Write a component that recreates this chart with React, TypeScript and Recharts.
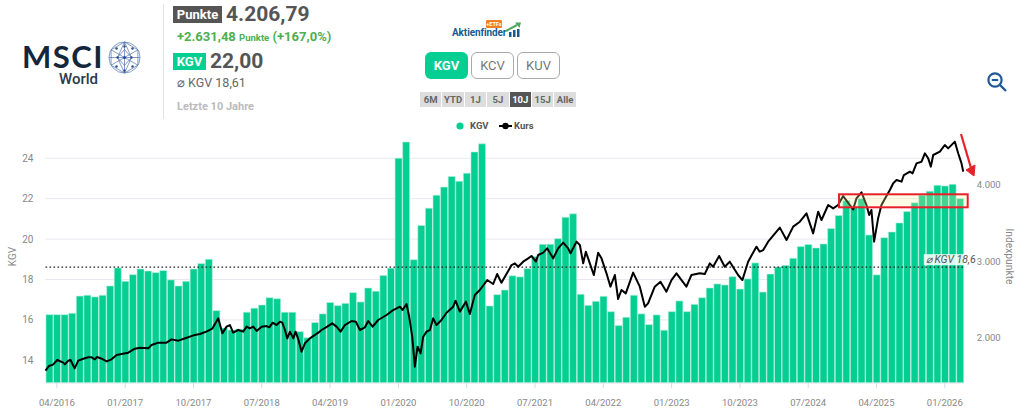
import React from "react";
import { ComposedChart, Bar, Line, XAxis, YAxis, CartesianGrid, ReferenceLine, Legend } from "recharts";

const months = [
  "03/2016", "04/2016", "05/2016", "06/2016", "07/2016", "08/2016", "09/2016", "10/2016", "11/2016", "12/2016",
  "01/2017", "02/2017", "03/2017", "04/2017", "05/2017", "06/2017", "07/2017", "08/2017", "09/2017", "10/2017", "11/2017", "12/2017",
  "01/2018", "02/2018", "03/2018", "04/2018", "05/2018", "06/2018", "07/2018", "08/2018", "09/2018", "10/2018", "11/2018", "12/2018",
  "01/2019", "02/2019", "03/2019", "04/2019", "05/2019", "06/2019", "07/2019", "08/2019", "09/2019", "10/2019", "11/2019", "12/2019",
  "01/2020", "02/2020", "03/2020", "04/2020", "05/2020", "06/2020", "07/2020", "08/2020", "09/2020", "10/2020", "11/2020", "12/2020",
  "01/2021", "02/2021", "03/2021", "04/2021", "05/2021", "06/2021", "07/2021", "08/2021", "09/2021", "10/2021", "11/2021", "12/2021",
  "01/2022", "02/2022", "03/2022", "04/2022", "05/2022", "06/2022", "07/2022", "08/2022", "09/2022", "10/2022", "11/2022", "12/2022",
  "01/2023", "02/2023", "03/2023", "04/2023", "05/2023", "06/2023", "07/2023", "08/2023", "09/2023", "10/2023", "11/2023", "12/2023",
  "01/2024", "02/2024", "03/2024", "04/2024", "05/2024", "06/2024", "07/2024", "08/2024", "09/2024", "10/2024", "11/2024", "12/2024",
  "01/2025", "02/2025", "03/2025", "04/2025", "05/2025", "06/2025", "07/2025", "08/2025", "09/2025", "10/2025", "11/2025", "12/2025",
  "01/2026", "02/2026", "03/2026",
];

const kgv = [
  16.26, 16.26, 16.26, 16.33, 17.18, 17.22, 17.14, 17.22, 17.68, 18.57,
  17.91, 18.24, 18.52, 18.42, 18.34, 18.44, 17.98, 17.68, 17.91, 18.52,
  18.79, 19.0, 16.46, 15.6, 15.5, 15.55, 16.38, 16.58, 16.74, 17.1,
  17.05, 16.38, 16.38, 15.42, 15.12, 15.87, 16.3, 16.86, 16.71, 16.82,
  17.35, 16.89, 17.58, 17.42, 18.2, 18.56, 24.0, 24.8, 18.98, 20.67,
  21.53, 22.17, 22.57, 23.1, 22.86, 23.26, 24.31, 24.71, 16.69, 17.25,
  17.48, 18.18, 18.13, 18.54, 19.13, 19.74, 19.74, 20.02, 21.08, 21.25,
  17.27, 16.72, 16.92, 17.17, 16.41, 15.72, 16.13, 17.22, 16.3, 15.77,
  16.25, 15.49, 16.41, 16.94, 16.41, 16.77, 17.1, 17.58, 17.78, 17.73,
  18.14, 17.53, 18.03, 18.82, 17.38, 18.27, 18.62, 18.7, 19.05, 19.63,
  19.73, 19.56, 19.76, 20.52, 21.17, 21.9, 21.6, 22.0, 20.2, 18.23,
  20.07, 20.35, 20.8, 21.36, 21.8, 22.17, 22.37, 22.66, 22.63, 22.71,
  22.0,
];

// Kurs position counted in months from the first bar
const kursMonths = [
  -0.5, -0.05, 0.48, 1.05, 1.84, 2.06, 2.5, 2.8, 3.34, 3.82, 4.48, 5.14, 5.58, 6.0, 6.3, 6.9, 7.55, 8.2, 8.87, 9.53,
  10.4, 11.28, 11.94, 13.04, 13.48, 14.36, 15.45, 16.1, 17.0, 18.1, 19.0, 19.84, 20.7, 21.47, 22.26, 22.8, 23.36, 23.8, 24.23, 24.9,
  25.55, 26.0, 26.43, 26.87, 27.32, 27.98, 28.64, 28.99, 29.43, 29.95, 30.39, 30.7, 31.05, 31.36, 31.71, 32.15, 32.45, 32.81, 33.24, 33.68,
  34.34, 35.44, 35.88, 36.62, 37.28, 37.85, 38.38, 38.95, 39.83, 40.4, 40.93, 41.59, 42.02, 42.6, 43.34, 44.44, 45.32, 46.2, 46.55, 47.07,
  47.42, 47.82, 48.17, 48.52, 48.92, 49.27, 49.71, 50.15, 50.58, 51.02, 51.68, 52.34, 53.22, 53.53, 54.1, 54.89, 55.41, 56.07, 56.73, 57.7,
  58.49, 59.01, 59.58, 60.16, 60.68, 60.91, 61.35, 61.78, 62.44, 63.1, 63.54, 64.11, 64.42, 65.08, 65.6, 66.39, 67.05, 67.71, 68.37, 68.68,
  69.47, 69.91, 70.35, 70.7, 71.0, 71.75, 72.32, 72.76, 73.42, 73.94, 74.52, 74.95, 75.39, 75.96, 76.93, 77.81, 78.47, 78.9, 79.78, 80.53,
  81.32, 81.98, 82.64, 83.95, 84.61, 85.71, 86.37, 87.03, 87.47, 88.26, 89.0, 89.66, 90.76, 91.33, 92.08, 93.17, 93.61, 94.07, 94.72, 96.26,
  97.14, 98.02, 98.9, 99.77, 100.65, 101.31, 101.75, 102.63, 103.29, 103.94, 104.6, 105.48, 105.92, 106.36, 107.02, 107.68, 108.03, 108.33, 108.68, 109.21,
  109.65, 110.31, 110.76, 111.2, 111.64, 112.3, 112.6, 113.4, 113.75, 114.27, 114.93, 115.37, 115.81, 116.16, 116.47, 117.35, 118.0, 118.44, 119.32, 119.76,
  120.2, 120.42,
];

const kursValues = [
  1562, 1623, 1641, 1702, 1667, 1645, 1693, 1702, 1592, 1693, 1719, 1737, 1737, 1711, 1741, 1719, 1684, 1711, 1768, 1781,
  1798, 1851, 1864, 1855, 1899, 1930, 1930, 1973, 1956, 1995, 2026, 2043, 2074, 2113, 2249, 2052, 2140, 2161, 2061, 2096,
  2074, 2140, 2118, 2140, 2083, 2140, 2148, 2131, 2192, 2161, 2205, 2192, 2096, 1986, 2074, 1986, 2074, 1973, 1811, 1921,
  1986, 2061, 2096, 2140, 2183, 2140, 2074, 2161, 2214, 2205, 2096, 2131, 2214, 2140, 2227, 2293, 2358, 2402, 2358, 2437,
  2271, 2008, 1614, 1877, 1789, 2008, 2074, 2096, 2249, 2161, 2227, 2323, 2402, 2481, 2337, 2468, 2306, 2555, 2621, 2752,
  2700, 2831, 2717, 2818, 2906, 2949, 2971, 2927, 2993, 3037, 3068, 2993, 3081, 3111, 3168, 3037, 3168, 3243, 3168, 3103,
  3256, 3212, 2971, 3124, 3037, 2818, 3111, 3037, 2840, 2665, 2818, 2503, 2621, 2577, 2849, 2665, 2402, 2446, 2665, 2730,
  2599, 2752, 2840, 2665, 2818, 2840, 2831, 2971, 2927, 3068, 2927, 2993, 2818, 2752, 2993, 3190, 3124, 3146, 3256, 3440,
  3278, 3453, 3518, 3628, 3365, 3650, 3540, 3737, 3693, 3737, 3855, 3737, 3680, 3825, 3904, 3737, 3606, 3672, 3256, 3562,
  3737, 3855, 3934, 4022, 4065, 4044, 4131, 4175, 4153, 4284, 4306, 4416, 4350, 4241, 4394, 4437, 4525, 4481, 4569, 4416,
  4284, 4175,
];

const xTicks = ["04/2016", "01/2017", "10/2017", "07/2018", "04/2019", "01/2020", "10/2020", "07/2021", "04/2022", "01/2023", "10/2023", "07/2024", "04/2025", "01/2026"];
const kgvTicks = [14, 16, 18, 20, 22, 24];
const kursTicks = [2000, 3000, 4000];
const avgKgv = 18.61;
const rangeButtons = ["6M", "YTD", "1J", "5J", "10J", "15J", "Alle"];
const kennzahlButtons = ["KGV", "KCV", "KUV"];

const GREEN = "#04CE91";
const FONT = "Roboto, sans-serif";

const barRows = months.map((month, i) => ({ month, kgv: kgv[i] }));
const kursRows = kursMonths.map((t, i) => ({ t, kurs: kursValues[i] }));

const formatKurs = (v: number) => v.toLocaleString("de-DE");

const AvgLabel = (props: any) => {
  const { x, y, width } = props.viewBox;
  const right = x + width + 10;
  return (
    <g>
      <rect x={right - 50} y={y - 13} width={50} height={11} fill="#ffffff" fillOpacity={0.85} />
      <text x={right - 48} y={y - 4} fontSize={10.5} fontStyle="italic" fill="#555" fontFamily={FONT}>
        ⌀ KGV 18,6
      </text>
    </g>
  );
};

const ChartLegend = () => (
  <div style={{ position: "absolute", left: 0, top: 0, width: 1024, height: 0, fontFamily: FONT, fontSize: 9.5, fontWeight: 700, color: "#555" }}>
    <svg style={{ position: "absolute", left: 450, top: 119 }} width={70} height={14}>
      <circle cx={10} cy={7} r={3.6} fill={GREEN} />
      <line x1={49} x2={62} y1={7} y2={7} stroke="#000" strokeWidth={2} />
      <circle cx={55.5} cy={7} r={3.2} fill="#000" />
    </svg>
    <span style={{ position: "absolute", left: 470, top: 120 }}>KGV</span>
    <span style={{ position: "absolute", left: 514, top: 120 }}>Kurs</span>
  </div>
);

const Abs = ({ x, y, w, h, style, children }: any) => (
  <div style={{ position: "absolute", left: x, top: y, width: w, height: h, lineHeight: `${h}px`, whiteSpace: "nowrap", ...style }}>{children}</div>
);

const Globe = () => (
  <svg style={{ position: "absolute", left: 108, top: 41 }} width={33} height={33} viewBox="-16.5 -16.5 33 33">
    <g fill="none" stroke="#4f74ad" strokeWidth={0.7}>
      <circle r={15.5} />
      <polygon points="0,-15.5 13.4,-7.7 13.4,7.7 0,15.5 -13.4,7.7 -13.4,-7.7" />
      <path d="M0,-15.5V15.5M-13.4,-7.7L13.4,7.7M-13.4,7.7L13.4,-7.7" />
      <polygon points="0,-8 7,0 0,8 -7,0" />
      <path d="M-15.5,0H15.5M-7,0L0,-15.5L7,0L0,15.5Z" />
    </g>
    <g fill="#2d4f8a">
      <circle cx={0} cy={0} r={1.5} />
      <circle cx={7} cy={0} r={1.2} />
      <circle cx={-7} cy={0} r={1.2} />
      <circle cx={0} cy={-11} r={1.2} />
      <circle cx={8} cy={-9} r={1.2} />
      <circle cx={-8} cy={-9} r={1.2} />
      <circle cx={8} cy={9} r={1.2} />
      <circle cx={-8} cy={9} r={1.2} />
      <circle cx={0} cy={13} r={1.2} />
    </g>
  </svg>
);

const Header = () => (
  <div style={{ fontFamily: FONT }}>
    <Abs x={22} y={41} w={84} h={30} style={{ fontFamily: "Lato, sans-serif", fontSize: 31, fontWeight: 700, color: "#14263a", letterSpacing: 1.5 }}>MSCI</Abs>
    <Abs x={59} y={71} w={42} h={16} style={{ fontSize: 15, fontWeight: 500, color: "#2b3a4a" }}>World</Abs>
    <Globe />
    <Abs x={163} y={4} w={1} h={115} style={{ background: "#e2e2e2" }} />

    <Abs x={173} y={6} w={49} h={17} style={{ background: "#555", color: "#fff", fontSize: 13, fontWeight: 700, textAlign: "center" }}>Punkte</Abs>
    <Abs x={226} y={1} w={90} h={26} style={{ fontSize: 21, fontWeight: 700, color: "#555" }}>4.206,79</Abs>
    <Abs x={177} y={29} w={160} h={16} style={{ fontSize: 13, fontWeight: 700, color: "#4caf50" }}>
      +2.631,48 <span style={{ fontSize: 9.5 }}>Punkte</span> (+167,0%)
    </Abs>
    <Abs x={173} y={53} w={33} h={17} style={{ background: GREEN, color: "#fff", fontSize: 13, fontWeight: 700, textAlign: "center" }}>KGV</Abs>
    <Abs x={210} y={48} w={60} h={26} style={{ fontSize: 21, fontWeight: 700, color: "#555" }}>22,00</Abs>
    <Abs x={177} y={75} w={90} h={16} style={{ fontSize: 12.5, color: "#666" }}>⌀ KGV 18,61</Abs>
    <Abs x={177} y={99} w={90} h={15} style={{ fontSize: 11, fontWeight: 700, color: "#bbb" }}>Letzte 10 Jahre</Abs>

    <Abs x={452} y={27} w={56} h={12} style={{ fontSize: 10, fontWeight: 700, color: "#1b5a8e", letterSpacing: -0.1 }}>Aktienfinder</Abs>
    <Abs x={486} y={20} w={16} h={8} style={{ background: "#f07f2a", color: "#fff", fontSize: 5.5, fontWeight: 700, textAlign: "center", borderRadius: 1 }}>+ETFs</Abs>
    <svg style={{ position: "absolute", left: 505, top: 20 }} width={18} height={19}>
      <rect x={4} y={12} width={2.5} height={5} fill="#1b5a8e" />
      <rect x={8} y={10} width={2.5} height={7} fill="#1b5a8e" />
      <rect x={12} y={9} width={2.5} height={8} fill="#1b5a8e" />
      <path d="M1,11 L12,5" stroke="#4da85a" strokeWidth={2} fill="none" />
      <path d="M10,2.5 L16,2.5 L14.5,8 Z" fill="#4da85a" />
    </svg>

    {kennzahlButtons.map((label, i) => (
      <Abs
        key={label}
        x={425 + i * 46}
        y={52}
        w={i === 0 ? 43 : 41}
        h={i === 0 ? 27 : 25}
        style={{
          background: i === 0 ? GREEN : "#fff",
          border: i === 0 ? "none" : "1px solid #aaa",
          borderRadius: 6,
          color: i === 0 ? "#fff" : "#777",
          fontSize: 13,
          fontWeight: i === 0 ? 700 : 400,
          textAlign: "center",
        }}
      >
        {label}
      </Abs>
    ))}

    {rangeButtons.map((label, i) => (
      <Abs
        key={label}
        x={420 + i * 22.4}
        y={92}
        w={21.4}
        h={15}
        style={{
          background: label === "10J" ? "#555" : "#ddd",
          color: label === "10J" ? "#fff" : "#666",
          fontSize: 9.5,
          fontWeight: 700,
          textAlign: "center",
        }}
      >
        {label}
      </Abs>
    ))}

    <svg style={{ position: "absolute", left: 985, top: 70 }} width={24} height={24}>
      <circle cx={10} cy={10} r={6.6} fill="none" stroke="#1f5a96" strokeWidth={2.2} />
      <path d="M6.8,10 H13.2" stroke="#1f5a96" strokeWidth={2} />
      <path d="M15,15 L21,21" stroke="#1f5a96" strokeWidth={2.4} />
    </svg>
  </div>
);

// hand drawn marks that sit on top of the screenshot
const Annotations = () => (
  <svg style={{ position: "absolute", left: 0, top: 0, pointerEvents: "none" }} width={1024} height={409}>
    <rect x={839} y={194.3} width={128.7} height={13} fill="#ffee99" fillOpacity={0.25} stroke="#e8202a" strokeWidth={2} />
    <path d="M961,134 L971,168" stroke="#e8202a" strokeWidth={2.2} fill="none" />
    <path d="M966,170 L975,165 L974,176 Z" fill="#e8202a" stroke="#e8202a" />
  </svg>
);

export default function App() {
  return (
    <div style={{ position: "absolute", left: 0, top: 0, width: 1024, height: 409, overflow: "hidden", background: "#fff" }}>
      <Header />
      <ComposedChart width={1024} height={409} data={barRows} margin={{ top: 138, right: 0, bottom: 0, left: 0 }} barCategoryGap="6%">
        <CartesianGrid yAxisId="kgv" xAxisId="month" vertical={false} stroke="#e8e9f0" syncWithTicks />
        <XAxis
          xAxisId="month"
          dataKey="month"
          ticks={xTicks}
          interval={0}
          height={26}
          axisLine={{ stroke: "#e6e9f0" }}
          tickLine={{ stroke: "#d3dcec" }}
          tickSize={5}
          tickMargin={11}
          tick={{ fontSize: 9.5, fill: "#888", fontFamily: FONT }}
        />
        <XAxis xAxisId="kursTime" orientation="top" type="number" dataKey="t" domain={[-0.5, 120.5]} height={0} hide />
        <YAxis
          yAxisId="kgv"
          domain={[12.88, 25]}
          ticks={kgvTicks}
          width={45.5}
          axisLine={false}
          tickLine={false}
          tickMargin={6}
          tick={{ fontSize: 10, fill: "#888", fontFamily: FONT }}
          label={{ value: "KGV", angle: -90, position: "insideLeft", offset: 12, textAnchor: "middle", dy: -4, style: { fontSize: 10, fill: "#888", fontFamily: FONT } }}
        />
        <YAxis
          yAxisId="kurs"
          orientation="right"
          domain={[1400, 4617]}
          ticks={kursTicks}
          tickFormatter={formatKurs}
          width={60.2}
          axisLine={false}
          tickLine={false}
          tickMargin={7}
          tick={{ fontSize: 9.5, fill: "#888", fontFamily: FONT }}
          label={{ value: "Indexpunkte", angle: 90, position: "insideRight", offset: 14, textAnchor: "middle", dy: -4, style: { fontSize: 10.3, fill: "#888", fontFamily: FONT } }}
        />
        <Legend content={<ChartLegend />} wrapperStyle={{ position: "absolute", left: 0, top: 0, width: 1024, height: 0 }} />
        <Bar xAxisId="month" yAxisId="kgv" dataKey="kgv" name="KGV" fill={GREEN} stroke="#b9f0dd" strokeWidth={0.6} isAnimationActive={false} />
        <ReferenceLine xAxisId="month" yAxisId="kgv" y={avgKgv} stroke="#222" strokeWidth={1.4} strokeDasharray="1.6 2.4" ifOverflow="visible" label={<AvgLabel />} />
        <Line xAxisId="kursTime" yAxisId="kurs" data={kursRows} dataKey="kurs" name="Kurs" type="linear" stroke="#000" strokeWidth={2} strokeLinejoin="round" dot={false} isAnimationActive={false} />
      </ComposedChart>
      <Annotations />
    </div>
  );
}
